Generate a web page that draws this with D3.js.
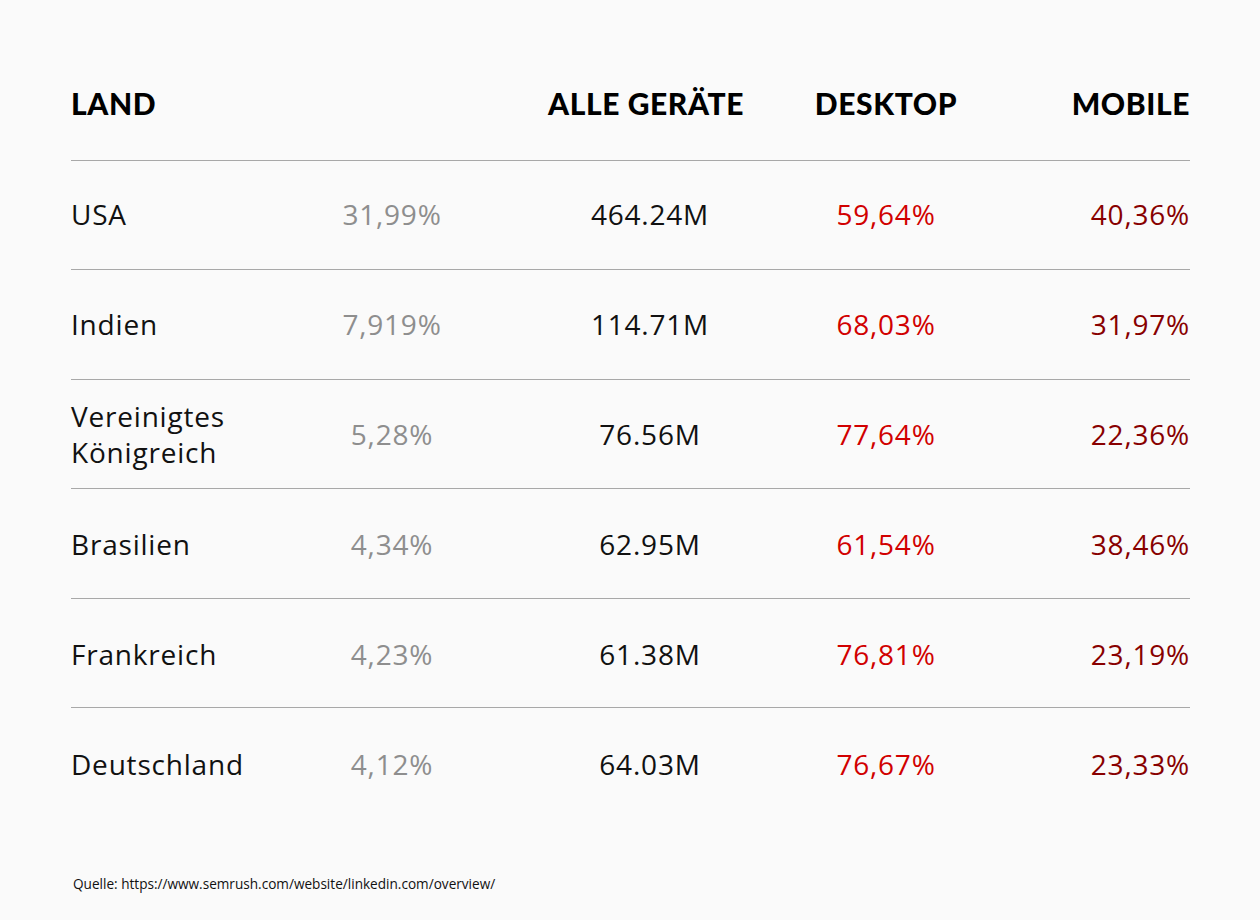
<!DOCTYPE html>
<html><head><meta charset="utf-8">
<script src="https://cdn.jsdelivr.net/npm/d3@7/dist/d3.min.js"></script>
<style>
html,body{margin:0;padding:0;background:#fafafa;}
svg{display:block;}
</style></head>
<body>
<svg id="c" width="1260" height="920"></svg>
<script>
const headers = ["LAND", "", "ALLE GERÄTE", "DESKTOP", "MOBILE"];
const countries = [["USA"], ["Indien"], ["Vereinigtes", "Königreich"], ["Brasilien"], ["Frankreich"], ["Deutschland"]];
const shares = ["31,99%", "7,919%", "5,28%", "4,34%", "4,23%", "4,12%"];
const allDevices = ["464.24M", "114.71M", "76.56M", "62.95M", "61.38M", "64.03M"];
const desktop = ["59,64%", "68,03%", "77,64%", "61,54%", "76,81%", "76,67%"];
const mobile = ["40,36%", "31,97%", "22,36%", "38,46%", "23,19%", "23,33%"];
const source = "Quelle: https://www.semrush.com/website/linkedin.com/overview/";

const W = 1260, H = 920;
const svg = d3.select("#c");
svg.append("rect").attr("width", W).attr("height", H).attr("fill", "#fafafa");

const headFont = "Lato, sans-serif";
const font = "'Open Sans', 'Noto Sans', sans-serif";
const left = 71, right = 1190;

const cols = [
  {key: "land", x: left, anchor: "start", color: "#111", data: countries},
  {key: "share", x: 392, anchor: "middle", color: "#8e8e8e", data: shares},
  {key: "all", x: 650, anchor: "middle", color: "#111", data: allDevices},
  {key: "desk", x: 886, anchor: "middle", color: "#d10000", data: desktop},
  {key: "mob", x: right, anchor: "end", color: "#880000", data: mobile}
];
const headerX = [left, 392, 646, 886, right];

const idx = d3.range(countries.length);
const y = d3.scaleBand().domain(idx).range([160, 160 + 6 * 109.4]);

// headers
svg.append("g").selectAll("text").data(headers).join("text")
  .attr("x", (d, i) => headerX[i])
  .attr("y", 115)
  .attr("text-anchor", (d, i) => cols[i].anchor)
  .attr("font-family", headFont).attr("font-weight", 900).attr("font-size", 30)
  .attr("letter-spacing", 0.6)
  .attr("fill", "#000").text(d => d);

// lines
svg.append("g").selectAll("line").data(idx).join("line")
  .attr("x1", left).attr("x2", right)
  .attr("y1", i => Math.round(y(i)) + 0.5).attr("y2", i => Math.round(y(i)) + 0.5)
  .attr("stroke", "#a8a8a8").attr("stroke-width", 1);

// cells
cols.forEach(c => {
  const g = svg.append("g");
  c.data.forEach((d, i) => {
    const lines = Array.isArray(d) ? d : [d];
    const cy = y(i) + y.bandwidth() / 2;
    const t = g.append("text")
      .attr("x", c.x)
      .attr("text-anchor", c.anchor)
      .attr("font-family", font).attr("font-size", 28)
      .attr("letter-spacing", 0.8)
      .attr("fill", c.color);
    lines.forEach((l, j) => {
      t.append("tspan").attr("x", c.x)
        .attr("y", cy + 10 + i * 0.6 + (j - (lines.length - 1) / 2) * 36)
        .text(l);
    });
  });
});

svg.append("text").attr("x", 73).attr("y", 889)
  .attr("font-family", font).attr("font-size", 13.6).attr("fill", "#111")
  .text(source);
</script>
</body></html>
